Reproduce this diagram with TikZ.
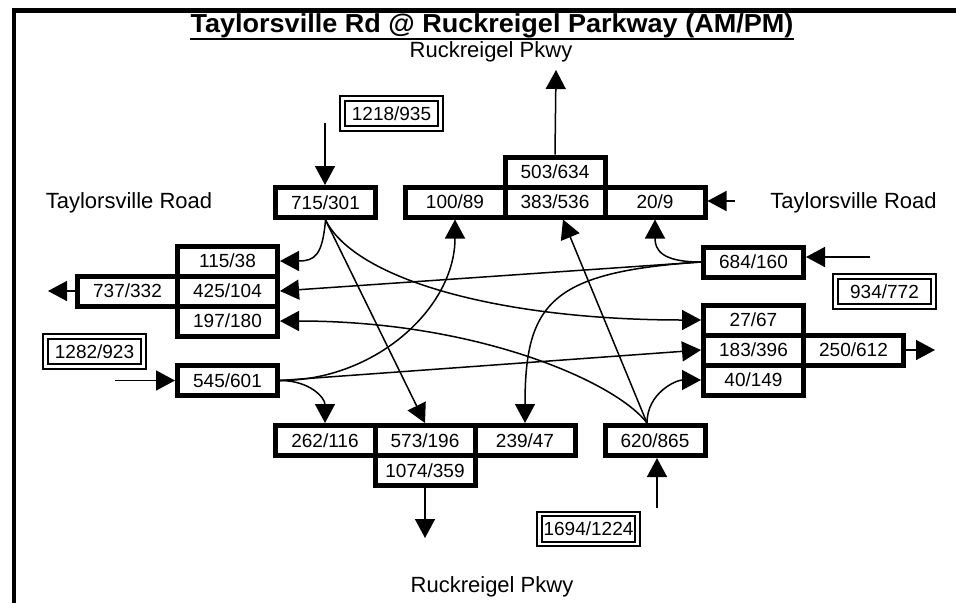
\documentclass[tikz,border=0pt]{standalone}
\usepackage{fontspec}
\setmainfont{Liberation Sans}
\usepackage{graphicx}
\usetikzlibrary{arrows.meta}

\newcommand{\lblsize}{\fontsize{19}{22}\selectfont}
\newcommand{\roadsize}{\fontsize{22}{25}\selectfont}

\begin{document}
\begin{tikzpicture}[x=1pt,y=-1pt,
    cell/.style={draw,line width=5pt,minimum width=100pt,minimum height=30pt,inner sep=0pt,font=\lblsize},
    total/.style={draw,double,line width=2pt,double distance=2.5pt,minimum width=98pt,minimum height=30pt,inner sep=0pt,font=\lblsize},
    road/.style={font=\roadsize,anchor=base},
    flow/.style={line width=1.5pt,-{Triangle[length=19pt,width=20pt]}}]

\useasboundingbox (0,0) rectangle (956,603);

% Frame
\draw[line width=4.5pt] (14,603) -- (14,10.5) -- (956,10.5);

% Title
\node[anchor=base,inner sep=0pt] (title) at (492,32) {\fontsize{26}{30}\selectfont\bfseries\scalebox{1.04}[1]{Taylorsville Rd @ Ruckreigel Parkway (AM/PM)}};
\draw[line width=1.8pt] ([yshift=-1pt]title.south west) -- ([yshift=-1pt]title.south east);

% Street names
\node[road] (northname) at (491,57) {Ruckreigel Pkwy};
\node[road] (southname) at (492,592) {Ruckreigel Pkwy};
\node[road] (westname) at (129,208) {Taylorsville Road};
\node[road] (eastname) at (853.5,208) {Taylorsville Road};

% Approach totals
\node[total] (sbtot) at (391.5,113.5) {1218/935};
\node[total] (wbtot) at (884.5,291.5) {934/772};
\node[total] (ebtot) at (94.5,351.5) {1282/923};
\node[total] (nbtot) at (588.5,529) {1694/1224};

% Approaches
\node[cell] (sbin) at (325.5,202.5) {715/301};
\node[cell] (wbin) at (753.5,262) {684/160};
\node[cell] (ebin) at (227.5,380.5) {545/601};
\node[cell] (nbin) at (655,440.5) {620/865};

% West leg
\node[cell] (sbR) at (227.5,261) {115/38};
\node[cell] (wbT) at (227.5,291) {425/104};
\node[cell] (nbL) at (227.5,321) {197/180};
\node[cell] (westx) at (127.5,291) {737/332};

% North leg
\node[cell] (ebL) at (455,202) {100/89};
\node[cell] (nbT) at (555,202) {383/536};
\node[cell] (wbR) at (655,202) {20/9};
\node[cell] (northx) at (555,172) {503/634};

% East leg
\node[cell] (sbL) at (753.5,320) {27/67};
\node[cell] (ebT) at (753.5,350) {183/396};
\node[cell] (nbR) at (753.5,380) {40/149};
\node[cell] (eastx) at (853.5,350) {250/612};

% South leg
\node[cell] (ebR) at (325,440.5) {262/116};
\node[cell] (sbT) at (425,440.5) {573/196};
\node[cell] (wbL) at (525,440.5) {239/47};
\node[cell] (southx) at (425,470.5) {1074/359};

% Entering and leaving
\coordinate (sbarr) at (325,123);
\coordinate (wbarr) at (870,257);
\coordinate (ebarr) at (115,380.5);
\coordinate (nbarr) at (657,508);
\coordinate (wbarr2) at (735,201);
\coordinate (northend) at (556,70);
\coordinate (westend) at (48,291);
\coordinate (eastend) at (935,350);
\coordinate (southend) at (425,538);

\draw[flow] (sbarr) -- (sbarr |- sbin.north);
\draw[flow] (wbarr) -- (wbarr -| wbin.east);
\draw[flow] (ebarr) -- (ebin.west);
\draw[flow] (nbarr) -- (nbarr |- nbin.south);
\draw[flow] (wbarr2) -- (wbarr2 -| wbR.east);
\draw[flow] (northx.north) -- (northend);
\draw[flow] (westx.west) -- (westend);
\draw[flow] (eastx.east) -- (eastend);
\draw[flow] (southx.south) -- (southend);

% Southbound
\draw[flow] (sbin.south) .. controls +(-3,35) and +(35,0) .. (sbR.east);
\draw[flow] (sbin.south) -- (sbT.north);
\draw[flow] (sbin.south) .. controls +(30,60) and +(-200,0) .. (sbL.west);

% Westbound
\draw[flow] (wbin.west) .. controls +(-40,0) and +(0,30) .. (wbR.south);
\draw[flow] (wbin.west) -- (wbT.east);
\draw[flow] (wbin.west) .. controls +(-150,10) and +(0,-120) .. (wbL.north);

% Eastbound
\draw[flow] (ebin.east) .. controls +(30,0) and +(0,-25) .. (ebR.north);
\draw[flow] (ebin.east) -- (ebT.west);
\draw[flow] (ebin.east) .. controls +(96,0) and +(0,88) .. (ebL.south);

% Northbound
\draw[flow] ([xshift=-8pt]nbin.north) .. controls +(0,-30) and +(-25,0) .. (nbR.west);
\draw[flow] ([xshift=-8pt]nbin.north) -- ([xshift=8pt]nbT.south);
\draw[flow] ([xshift=-8pt]nbin.north) .. controls +(-30,-40) and +(200,0) .. (nbL.east);

\end{tikzpicture}
\end{document}
